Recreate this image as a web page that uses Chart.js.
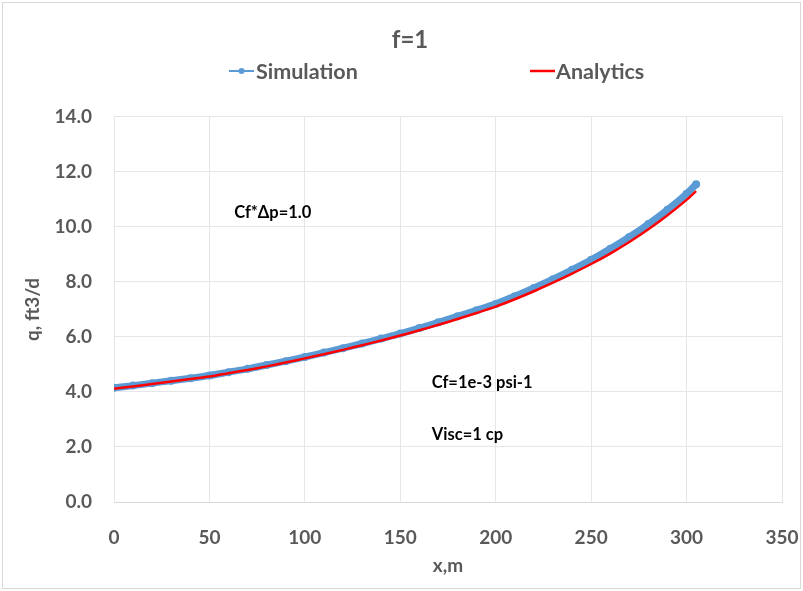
<!DOCTYPE html>
<html>
<head>
<meta charset="utf-8">
<script src="https://cdn.jsdelivr.net/npm/chart.js@4/dist/chart.umd.min.js"></script>
<style>
  html, body { margin: 0; padding: 0; background: #fff; }
  #wrap { width: 803px; height: 591px; }
</style>
</head>
<body>
<div id="wrap"><canvas id="c" width="803" height="591"></canvas></div>
<script>
// distance along x, m
const xPos = [0, 10, 20, 30, 40, 50, 60, 70, 80, 90, 100, 110, 120, 130, 140, 150,
  160, 170, 180, 190, 200, 210, 220, 230, 240, 250, 260, 270, 280, 290, 300, 305];
// q, ft3/d
const simulation = [4.15, 4.23, 4.32, 4.41, 4.50, 4.60, 4.72, 4.84, 4.98, 5.12, 5.27,
  5.43, 5.59, 5.76, 5.94, 6.12, 6.32, 6.53, 6.75, 6.97, 7.20, 7.48, 7.78, 8.10, 8.44,
  8.80, 9.20, 9.63, 10.10, 10.62, 11.20, 11.55];
const analytics = [4.12, 4.20, 4.29, 4.38, 4.47, 4.56, 4.68, 4.80, 4.93, 5.07, 5.22,
  5.37, 5.53, 5.70, 5.87, 6.05, 6.24, 6.44, 6.65, 6.87, 7.10, 7.37, 7.66, 7.97, 8.30,
  8.65, 9.03, 9.45, 9.91, 10.42, 10.98, 11.30];
const seriesNames = ['Simulation', 'Analytics'];
const notes = [
  { text: 'Cf*\u0394p=1.0', x: 63, y: 10.5 },
  { text: 'Cf=1e-3 psi-1', x: 166.5, y: 4.33 },
  { text: 'Visc=1 cp', x: 166.5, y: 2.44 }
];

const BLUE = '#5b9bd5';
const RED = '#ff0000';
const GREY = '#595959';
const FONT = 'Lato, "Open Sans", sans-serif';

const pts = (ys) => xPos.map((x, i) => ({ x: x, y: ys[i] }));

// frame, legend row and text boxes
const extras = {
  id: 'extras',
  beforeDraw(chart) {
    const ctx = chart.ctx;
    ctx.save();
    ctx.fillStyle = '#fff';
    ctx.fillRect(0, 0, chart.width, chart.height);
    ctx.strokeStyle = '#d9d9d9';
    ctx.lineWidth = 1;
    ctx.strokeRect(2.5, 2.5, chart.width - 5, chart.height - 5);
    ctx.restore();
  },
  afterDraw(chart) {
    const ctx = chart.ctx;
    ctx.save();
    ctx.font = 'bold 21.5px ' + FONT;
    ctx.textBaseline = 'middle';
    const ly = 71;
    // Simulation
    ctx.strokeStyle = BLUE; ctx.lineWidth = 2;
    ctx.beginPath(); ctx.moveTo(229, ly); ctx.lineTo(254, ly); ctx.stroke();
    ctx.fillStyle = BLUE;
    ctx.beginPath(); ctx.arc(241.5, ly, 3, 0, Math.PI * 2); ctx.fill();
    ctx.fillStyle = GREY;
    ctx.fillText(seriesNames[0], 256, ly + 1);
    // Analytics
    ctx.strokeStyle = RED; ctx.lineWidth = 2.5;
    ctx.beginPath(); ctx.moveTo(530, ly); ctx.lineTo(555, ly); ctx.stroke();
    ctx.fillText(seriesNames[1], 556, ly + 1);

    const xs = chart.scales.x, ys = chart.scales.y;
    ctx.fillStyle = '#000';
    ctx.font = 'bold 16.5px ' + FONT;
    ctx.textBaseline = 'middle';
    notes.forEach(n => ctx.fillText(n.text, xs.getPixelForValue(n.x), ys.getPixelForValue(n.y)));
    ctx.restore();
  }
};

new Chart(document.getElementById('c'), {
  type: 'line',
  data: {
    datasets: [
      {
        label: seriesNames[1],
        data: pts(analytics),
        borderColor: RED,
        borderWidth: 2.5,
        pointRadius: 0,
        tension: 0.3,
        order: 0
      },
      {
        label: seriesNames[0],
        data: pts(simulation),
        borderColor: BLUE,
        backgroundColor: BLUE,
        borderWidth: 7,
        pointRadius: 4,
        pointBorderWidth: 0,
        tension: 0.3,
        order: 1
      }
    ]
  },
  options: {
    responsive: false,
    animation: false,
    layout: { padding: { left: 17, right: 0, top: 4, bottom: 8 } },
    plugins: {
      legend: { display: false },
      tooltip: { enabled: false },
      title: {
        display: true,
        text: 'f=1',
        color: GREY,
        font: { family: FONT, size: 24, weight: 'bold' },
        padding: { top: 22, bottom: 62 }
      }
    },
    scales: {
      x: {
        type: 'linear',
        min: 0, max: 350,
        afterFit(s) { s.height = 81; s.paddingRight = 21; },
        ticks: { stepSize: 50, color: GREY, font: { family: FONT, size: 19, weight: 'bold' }, padding: 24, maxRotation: 0 },
        grid: { color: '#e6e6e6', drawTicks: false },
        border: { color: '#d9d9d9' },
        title: { display: true, text: 'x,m', color: GREY, font: { family: FONT, size: 19, weight: 'bold' }, padding: { top: 6, bottom: 6 } }
      },
      y: {
        min: 0, max: 14,
        afterFit(s) { s.width = 97; },
        ticks: { stepSize: 2, color: GREY, font: { family: FONT, size: 19, weight: 'bold' }, padding: 22,
          callback: v => v.toFixed(1) },
        grid: { color: '#e6e6e6', drawTicks: false },
        border: { display: false },
        title: { display: true, text: 'q, ft3/d', color: GREY, font: { family: FONT, size: 19, weight: 'bold' }, padding: { bottom: 10 } }
      }
    }
  },
  plugins: [extras]
});
</script>
</body>
</html>
